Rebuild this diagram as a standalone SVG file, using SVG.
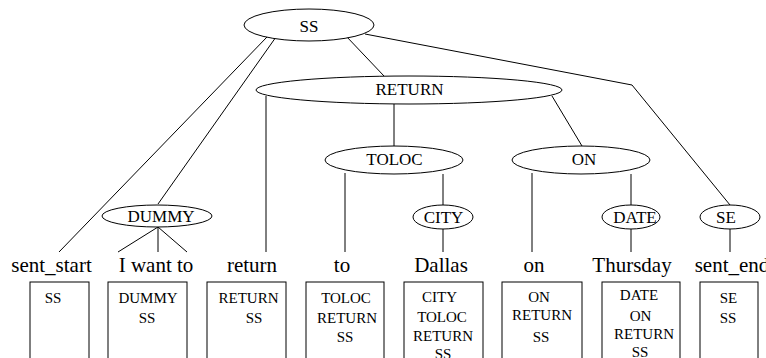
<svg xmlns="http://www.w3.org/2000/svg" width="766" height="358" viewBox="0 0 766 358">
<style>
.n{fill:#fff;stroke:#000;stroke-width:1}
.b{fill:#fff;stroke:#000;stroke-width:1}
.c line,.c polyline{stroke:#000;stroke-width:1;fill:none}
.l{font-family:"Liberation Serif","Times New Roman",serif;font-size:17px;text-anchor:middle;fill:#000}
.w{font-family:"Liberation Serif","Times New Roman",serif;font-size:21px;text-anchor:middle;fill:#000}
.t{font-family:"Liberation Serif","Times New Roman",serif;font-size:15px;text-anchor:middle;fill:#000}
</style>
<rect width="766" height="358" fill="#fff"/>
<g class="c" id="connectors">
<line x1="267" y1="37" x2="59" y2="252"/>
<line x1="276" y1="37" x2="158" y2="204"/>
<line x1="346" y1="36" x2="384" y2="76"/>
<polyline points="365,34 632,85 730,205"/>
<line x1="266" y1="96" x2="266" y2="252"/>
<line x1="394" y1="104" x2="394" y2="146"/>
<line x1="552" y1="96" x2="582" y2="146"/>
<line x1="345" y1="173" x2="345" y2="252"/>
<line x1="443" y1="174" x2="443" y2="205"/>
<line x1="443" y1="229" x2="443" y2="252"/>
<line x1="532" y1="173" x2="532" y2="252"/>
<line x1="631" y1="174" x2="631" y2="205"/>
<line x1="631" y1="229" x2="631" y2="252"/>
<line x1="730" y1="229" x2="730" y2="252"/>
<line x1="158" y1="227" x2="118" y2="252"/>
<line x1="158" y1="227" x2="158" y2="252"/>
<line x1="158" y1="227" x2="187" y2="252"/>
</g>
<g id="SS"><ellipse class="n" cx="309" cy="25" rx="65" ry="16"/><text class="l" x="309" y="32">SS</text></g>
<g id="RETURN"><ellipse class="n" cx="409" cy="90" rx="153" ry="14"/><text class="l" x="409.5" y="95">RETURN</text></g>
<g id="TOLOC"><ellipse class="n" cx="394" cy="160" rx="69" ry="14"/><text class="l" x="394.5" y="165">TOLOC</text></g>
<g id="ON"><ellipse class="n" cx="581" cy="160" rx="69" ry="14"/><text class="l" x="584" y="165">ON</text></g>
<g id="DUMMY"><ellipse class="n" cx="157" cy="216" rx="55" ry="11"/><text class="l" x="161" y="222">DUMMY</text></g>
<g id="CITY"><ellipse class="n" cx="443" cy="217" rx="30" ry="12"/><text class="l" x="443.5" y="223">CITY</text></g>
<g id="DATE"><ellipse class="n" cx="631" cy="217" rx="29" ry="12"/><text class="l" x="635" y="223">DATE</text></g>
<g id="SE"><ellipse class="n" cx="730" cy="217" rx="30" ry="12"/><text class="l" x="726" y="223">SE</text></g>
<g id="w-sent_start"><text class="w" x="51.5" y="272">sent_start</text><rect class="b" x="30" y="282" width="59" height="90"/><text class="t" x="53" y="303">SS</text></g>
<g id="w-iwantto"><text class="w" x="156" y="272">I want to</text><rect class="b" x="108" y="282" width="79" height="90"/><text class="t" x="148" y="303">DUMMY</text><text class="t" x="147" y="323">SS</text></g>
<g id="w-return"><text class="w" x="252" y="272">return</text><rect class="b" x="207" y="282" width="79" height="90"/><text class="t" x="248.5" y="303">RETURN</text><text class="t" x="254" y="323">SS</text></g>
<g id="w-to"><text class="w" x="342" y="272">to</text><rect class="b" x="306" y="282" width="78" height="90"/><text class="t" x="346" y="303">TOLOC</text><text class="t" x="347" y="323">RETURN</text><text class="t" x="345" y="342">SS</text></g>
<g id="w-dallas"><text class="w" x="441" y="272">Dallas</text><rect class="b" x="404" y="282" width="79" height="90"/><text class="t" x="439.5" y="302">CITY</text><text class="t" x="442" y="322">TOLOC</text><text class="t" x="443" y="341">RETURN</text><text class="t" x="443" y="359">SS</text></g>
<g id="w-on"><text class="w" x="534" y="272">on</text><rect class="b" x="502" y="282" width="80" height="90"/><text class="t" x="539" y="302">ON</text><text class="t" x="542" y="320">RETURN</text><text class="t" x="541" y="342">SS</text></g>
<g id="w-thursday"><text class="w" x="632" y="272">Thursday</text><rect class="b" x="602" y="282" width="78" height="90"/><text class="t" x="639" y="300">DATE</text><text class="t" x="640.5" y="321">ON</text><text class="t" x="644" y="339">RETURN</text><text class="t" x="640" y="357">SS</text></g>
<g id="w-sent_end"><text class="w" x="732" y="272">sent_end</text><rect class="b" x="700" y="282" width="58" height="90"/><text class="t" x="728.5" y="303">SE</text><text class="t" x="728" y="323">SS</text></g>
</svg>
